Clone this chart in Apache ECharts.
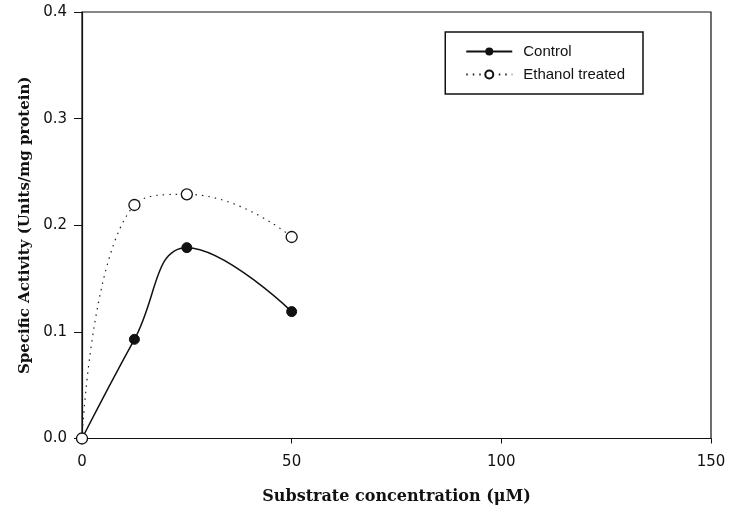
<!DOCTYPE html>
<html><head><meta charset="utf-8">
<script src="https://cdn.jsdelivr.net/npm/echarts@6/dist/echarts.min.js"></script>
<style>html,body{margin:0;padding:0;background:#fff}#c{width:729px;height:517px}</style>
</head><body><div id="c"></div>
<script>
const concentrations = [0, 12.5, 25, 50];
const controlValues = [0, 0.093, 0.179, 0.119];
const ethanolValues = [0, 0.219, 0.229, 0.189];
const xTicks = [0, 50, 100, 150];
const yTicks = [0.0, 0.1, 0.2, 0.3, 0.4];

const chart = echarts.init(document.getElementById('c'));
chart.setOption({
  animation: false,
  backgroundColor: '#fff',
  grid: {left: 82, right: 18, top: 12, bottom: 78.5, outerBoundsMode: 'none', containLabel: false,
         show: true, borderColor: '#111', borderWidth: 1.2, backgroundColor: 'transparent'},
  legend: {
    right: 86, top: 32, orient: 'vertical', itemGap: 8,
    borderColor: '#111', borderWidth: 1.5, padding: [12, 18, 12, 20],
    itemWidth: 46, itemHeight: 10,
    textStyle: {fontFamily: 'Liberation Sans', fontSize: 15, color: '#111', padding: [0,0,0,6]},
    data: ['Control', 'Ethanol treated']
  },
  xAxis: {
    type: 'value', min: xTicks[0], max: xTicks[xTicks.length-1], interval: 50,
    name: 'Substrate concentration (\u03bcM)', nameLocation: 'middle', nameGap: 50,
    nameTextStyle: {fontFamily: 'DejaVu Serif', fontWeight: 'bold', fontSize: 16, color: '#111'},
    axisLine: {lineStyle: {color: '#111', width: 1.2}},
    axisTick: {show: true, length: 5, lineStyle: {color: '#111'}},
    axisLabel: {fontFamily: 'DejaVu Sans', fontSize: 15, color: '#111', margin: 16},
    splitLine: {show: false}
  },
  yAxis: {
    type: 'value', min: yTicks[0], max: yTicks[yTicks.length-1], interval: 0.1,
    name: 'Specific Activity (Units/mg protein)', nameLocation: 'middle', nameGap: 49,
    nameTextStyle: {fontFamily: 'DejaVu Serif', fontWeight: 'bold', fontSize: 15, color: '#111', verticalAlign: 'bottom'},
    axisLine: {lineStyle: {color: '#111', width: 1.2}},
    axisTick: {show: true, length: 8, lineStyle: {color: '#111'}},
    axisLabel: {fontFamily: 'DejaVu Sans', fontSize: 15, color: '#111', margin: 15, formatter: v => v.toFixed(1)},
    splitLine: {show: false}
  },
  series: [
    {
      name: 'Control', type: 'line', smooth: 0.45,
      data: concentrations.map((x, i) => [x, controlValues[i]]),
      symbol: 'circle', symbolSize: 10,
      lineStyle: {color: '#111', width: 1.5},
      itemStyle: {color: '#111', borderColor: '#111'}
    },
    {
      name: 'Ethanol treated', type: 'line', smooth: 0.5,
      data: concentrations.map((x, i) => [x, ethanolValues[i]]),
      symbol: 'circle', symbolSize: 11,
      lineStyle: {color: '#222', width: 1.2, type: [1.5, 5]},
      itemStyle: {color: '#fff', borderColor: '#111', borderWidth: 1.3},
      z: 3
    }
  ]
});
</script></body></html>
